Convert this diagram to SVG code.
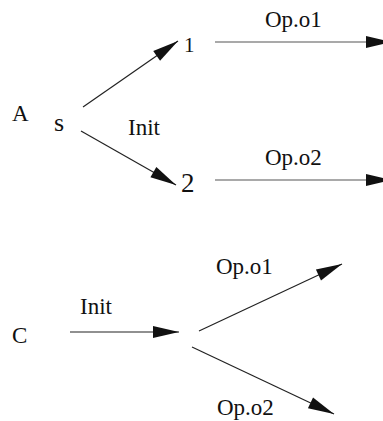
<svg xmlns="http://www.w3.org/2000/svg" width="383" height="421" viewBox="0 0 383 421">
<style>
text{font-family:"Liberation Serif","Times New Roman",serif;fill:#111;font-size:23px}
.e{stroke:#222;stroke-width:1.2;fill:none;marker-end:url(#ah)}
.h{stroke:#555}
</style>
<defs>
<marker id="ah" markerUnits="userSpaceOnUse" markerWidth="28" markerHeight="14" refX="26" refY="6" orient="auto" overflow="visible">
<path d="M0,0 L26,6 L0,12 z" fill="#111"/>
</marker>
</defs>
<rect width="383" height="421" fill="#fff"/>
<g id="nodeA"><text x="12" y="121">A</text></g>
<g id="nodeS"><text x="54" y="131" style="font-size:26px">s</text></g>
<g id="node1"><text x="184" y="52" style="font-size:21px">1</text></g>
<g id="node2"><text x="181" y="192" style="font-size:27px">2</text></g>
<g id="nodeC"><text x="12" y="343">C</text></g>
<g id="connectors">
<line class="e" x1="83" y1="107" x2="178" y2="41"/>
<line class="e" x1="81" y1="131" x2="176" y2="185"/>
<line class="e h" x1="215" y1="42" x2="392" y2="42"/>
<line class="e h" x1="215" y1="180" x2="392" y2="180"/>
<line class="e" x1="70" y1="332" x2="179" y2="332"/>
<line class="e" x1="199" y1="331" x2="342" y2="264"/>
<line class="e" x1="192" y1="347" x2="334" y2="414"/>
</g>
<g id="labels">
<text x="265" y="27">Op.o1</text>
<text x="128" y="135">Init</text>
<text x="265" y="165">Op.o2</text>
<text x="80" y="314">Init</text>
<text x="216" y="274">Op.o1</text>
<text x="217" y="415">Op.o2</text>
</g>
</svg>
